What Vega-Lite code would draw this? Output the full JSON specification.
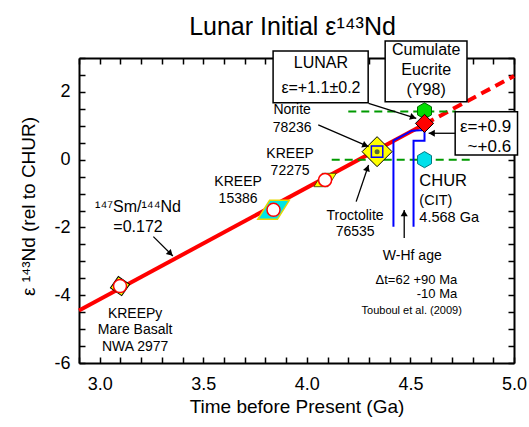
{
  "$schema": "https://vega.github.io/schema/vega-lite/v6.json",
  "width": 435,
  "height": 305,
  "autosize": {"type": "none"},
  "padding": {"left": 79, "top": 58, "right": 15, "bottom": 64},
  "background": "white",
  "config": {
    "view": {"stroke": null},
    "font": "Liberation Sans",
    "axis": {"domainColor": "black", "domainWidth": 2, "tickColor": "black", "tickWidth": 1.5, "grid": false, "labelColor": "black", "titleColor": "black", "labelFont": "Liberation Sans", "titleFont": "Liberation Sans", "titleFontWeight": "normal"}
  },
  "title": {"text": "Lunar Initial ε¹⁴³Nd", "frame": "group", "anchor": "middle", "fontSize": 25, "fontWeight": "normal", "font": "Liberation Sans", "color": "black", "baseline": "alphabetic", "offset": 0, "dy": 20, "dx": -4},
  "datasets": {
    "redline": [
      {"part": "solid", "x": 2.9, "y": -4.45},
      {"part": "solid", "x": 4.57, "y": 1.053},
      {"part": "dashed", "x": 4.57, "y": 1.053},
      {"part": "dashed", "x": 5.0, "y": 2.47}
    ],
    "greenlines": [
      {"g": "upper", "x": 4.2, "y": 1.42},
      {"g": "upper", "x": 4.72, "y": 1.42},
      {"g": "lower", "x": 4.12, "y": 0},
      {"g": "lower", "x": 4.8, "y": 0}
    ],
    "whf": [
      {"o": 1, "x": 4.418, "y": -1.98},
      {"o": 2, "x": 4.418, "y": 0.56},
      {"o": 3, "x": 4.507, "y": 0.855},
      {"o": 4, "x": 4.568, "y": 0.876},
      {"o": 5, "x": 4.568, "y": 0.56},
      {"o": 6, "x": 4.515, "y": 0.56},
      {"o": 7, "x": 4.515, "y": -1.98}
    ],
    "samples": [
      {"id": "nwa", "x": 3.098, "y": -3.73},
      {"id": "k15386", "x": 3.839, "y": -1.48},
      {"id": "k72275", "x": 4.088, "y": -0.6},
      {"id": "t76535", "x": 4.339, "y": 0.236},
      {"id": "eucrite", "x": 4.568, "y": 1.44},
      {"id": "lunar", "x": 4.568, "y": 1.07},
      {"id": "chur", "x": 4.568, "y": 0.0}
    ],
    "boxes": [
      {"id": "lunar", "x": 3.837, "x2": 4.296, "y": 3.206, "y2": 1.681},
      {"id": "cumulate", "x": 4.378, "x2": 4.773, "y": 3.501, "y2": 1.711},
      {"id": "eps", "x": 4.716, "x2": 5.017, "y": 1.416, "y2": 0.139}
    ],
    "arrows": [
      {"id": "sm", "x": 3.259, "y": -2.271, "x2": 3.353, "y2": -2.841},
      {"id": "norite", "x": 4.055, "y": 1.024, "x2": 4.298, "y2": 0.383},
      {"id": "lunar", "x": 4.298, "y": 1.664, "x2": 4.528, "y2": 1.221},
      {"id": "eps", "x": 4.716, "y": 0.779, "x2": 4.588, "y2": 0.779},
      {"id": "troct", "x": 4.238, "y": -1.239, "x2": 4.298, "y2": -0.156},
      {"id": "whf", "x": 4.47, "y": -2.31, "x2": 4.47, "y2": -1.484}
    ],
    "heads": [
      {"id": "sm", "x": 3.3415, "y": -2.773},
      {"id": "norite", "x": 4.283, "y": 0.422},
      {"id": "lunar", "x": 4.513, "y": 1.251},
      {"id": "eps", "x": 4.603, "y": 0.779},
      {"id": "troct", "x": 4.292, "y": -0.248},
      {"id": "whf", "x": 4.47, "y": -1.581}
    ],
    "txt_samples": [
      {"text": "KREEPy", "x": 3.171, "y": -4.67},
      {"text": "Mare Basalt", "x": 3.171, "y": -5.142},
      {"text": "NWA 2977", "x": 3.171, "y": -5.643},
      {"text": "KREEP", "x": 3.668, "y": -0.776},
      {"text": "15386", "x": 3.668, "y": -1.277},
      {"text": "KREEP", "x": 3.919, "y": 0.05},
      {"text": "72275", "x": 3.919, "y": -0.451},
      {"text": "Norite", "x": 3.929, "y": 1.333},
      {"text": "78236", "x": 3.929, "y": 0.817},
      {"text": "Troctolite", "x": 4.233, "y": -1.779},
      {"text": "76535", "x": 4.233, "y": -2.251},
      {"text": "W-Hf age", "x": 4.509, "y": -2.959}
    ],
    "txt_ratio": [
      {"text": "¹⁴⁷Sm/¹⁴⁴Nd", "x": 3.185, "y": -1.534},
      {"text": "=0.172", "x": 3.185, "y": -2.124}
    ],
    "txt_box": [
      {"text": "LUNAR", "x": 4.068, "y": 2.705},
      {"text": "ε=+1.1±0.2", "x": 4.068, "y": 1.959},
      {"text": "Cumulate", "x": 4.576, "y": 3.074},
      {"text": "Eucrite", "x": 4.576, "y": 2.484},
      {"text": "(Y98)", "x": 4.576, "y": 1.894}
    ],
    "txt_eps": [
      {"text": "ε=+0.9", "x": 4.986, "y": 0.826},
      {"text": "~+0.6", "x": 4.986, "y": 0.236}
    ],
    "txt_chur": [
      {"text": "CHUR", "x": 4.543, "y": -0.776}
    ],
    "txt_chur_sub": [
      {"text": "(CIT)", "x": 4.543, "y": -1.336},
      {"text": "4.568 Ga", "x": 4.543, "y": -1.829}
    ],
    "txt_dt": [
      {"text": "Δt=62 +90 Ma", "x": 4.726, "y": -3.67},
      {"text": "-10 Ma", "x": 4.726, "y": -4.09}
    ],
    "txt_ref": [
      {"text": "Touboul et al. (2009)", "x": 4.506, "y": -4.56}
    ]
  },
  "encoding": {
    "x": {"field": "x", "type": "quantitative", "scale": {"domain": [2.9, 5.0], "nice": false, "zero": false}, "axis": null},
    "y": {"field": "y", "type": "quantitative", "scale": {"domain": [-6, 3], "nice": false, "zero": false}, "axis": null}
  },
  "layer": [
    {
      "data": {"name": "redline"},
      "transform": [{"filter": "datum.part == 'solid'"}],
      "mark": {"type": "line", "color": "#ff0000", "strokeWidth": 4},
      "encoding": {
        "x": {"field": "x", "type": "quantitative", "scale": {"domain": [2.9, 5.0], "nice": false, "zero": false},
          "axis": {"orient": "bottom", "values": [2.9, 3.0, 3.1, 3.2, 3.3, 3.4, 3.5, 3.6, 3.7, 3.8, 3.9, 4.0, 4.1, 4.2, 4.3, 4.4, 4.5, 4.6, 4.7, 4.8, 4.9, 5.0],
            "labelExpr": "abs(datum.value*2 - round(datum.value*2)) < 0.000001 ? format(datum.value, '.1f') : ''",
            "tickSize": -6, "labelPadding": 18, "labelFontSize": 18, "labelFlush": false, "labelOverlap": false,
            "title": "Time before Present (Ga)", "titleFontSize": 19, "titleBaseline": "alphabetic", "titleY": 49}},
        "y": {"field": "y", "type": "quantitative", "scale": {"domain": [-6, 3], "nice": false, "zero": false},
          "axis": {"orient": "left", "values": [-6, -5.5, -5, -4.5, -4, -3.5, -3, -2.5, -2, -1.5, -1, -0.5, 0, 0.5, 1, 1.5, 2, 2.5, 3],
            "labelExpr": "datum.value % 2 == 0 ? '' + datum.value : ''",
            "tickSize": -6, "labelPadding": 15, "labelFontSize": 18, "labelFlush": false, "labelOverlap": false,
            "title": "ε ¹⁴³Nd (rel to CHUR)", "titleFontSize": 19, "titleBaseline": "alphabetic", "titleX": -45, "titleY": 148}}
      }
    },
    {
      "data": {"name": "redline"},
      "transform": [{"filter": "datum.part == 'dashed'"}],
      "mark": {"type": "line", "color": "#ff0000", "strokeWidth": 4, "strokeDash": [10, 6]},
      "encoding": {
        "x": {"field": "x", "type": "quantitative", "scale": {"domain": [2.9, 5.0], "nice": false, "zero": false},
          "axis": {"orient": "top", "values": [2.9, 3.0, 3.1, 3.2, 3.3, 3.4, 3.5, 3.6, 3.7, 3.8, 3.9, 4.0, 4.1, 4.2, 4.3, 4.4, 4.5, 4.6, 4.7, 4.8, 4.9, 5.0], "labels": false, "tickSize": -6, "title": null}},
        "y": {"field": "y", "type": "quantitative", "scale": {"domain": [-6, 3], "nice": false, "zero": false},
          "axis": {"orient": "right", "values": [-6, -5.5, -5, -4.5, -4, -3.5, -3, -2.5, -2, -1.5, -1, -0.5, 0, 0.5, 1, 1.5, 2, 2.5, 3], "labels": false, "tickSize": -6, "title": null}}
      }
    },
    {
      "data": {"name": "greenlines"},
      "mark": {"type": "line", "color": "#009a00", "strokeWidth": 2, "strokeDash": [8, 5]},
      "encoding": {"detail": {"field": "g"}}
    },
    {
      "data": {"name": "whf"},
      "mark": {"type": "line", "color": "#0000ff", "strokeWidth": 2},
      "encoding": {"order": {"field": "o", "type": "quantitative"}}
    },
    {
      "data": {"name": "samples"},
      "transform": [{"filter": "datum.id == 'nwa'"}],
      "mark": {"type": "point", "shape": "square", "size": 190, "angle": 35, "filled": true, "fill": "#ffff00", "stroke": "black", "strokeWidth": 1, "opacity": 1}
    },
    {
      "data": {"name": "samples"},
      "transform": [{"filter": "datum.id == 'k15386'"}],
      "mark": {"type": "point", "shape": "M-1,0.6L-0.25,-0.6L1,-0.6L0.25,0.6Z", "size": 1000, "filled": true, "fill": "#00e5e5", "stroke": "#e8d800", "strokeWidth": 1.5, "opacity": 1}
    },
    {
      "data": {"name": "samples"},
      "transform": [{"filter": "datum.id == 'k72275'"}],
      "mark": {"type": "point", "shape": "M-1,0.6L-0.25,-0.6L1,-0.6L0.25,0.6Z", "size": 500, "filled": true, "fill": "#ffff00", "stroke": "#333300", "strokeWidth": 0.8, "opacity": 1}
    },
    {
      "data": {"name": "samples"},
      "transform": [{"filter": "indexof(['nwa','k15386','k72275'], datum.id) >= 0"}],
      "mark": {"type": "point", "shape": "circle", "size": 170, "filled": true, "fill": "white", "stroke": "#ff0000", "strokeWidth": 1.5, "opacity": 1}
    },
    {
      "data": {"name": "samples"},
      "transform": [{"filter": "datum.id == 't76535'"}],
      "mark": {"type": "point", "shape": "diamond", "size": 900, "filled": true, "fill": "#ffff00", "stroke": "black", "strokeWidth": 1, "opacity": 1}
    },
    {
      "data": {"name": "samples"},
      "transform": [{"filter": "datum.id == 't76535'"}],
      "mark": {"type": "point", "shape": "square", "size": 130, "filled": false, "stroke": "#0000ff", "strokeWidth": 1.5, "opacity": 1}
    },
    {
      "data": {"name": "samples"},
      "transform": [{"filter": "datum.id == 't76535'"}],
      "mark": {"type": "point", "shape": "circle", "size": 25, "filled": true, "fill": "#556b2f", "opacity": 1}
    },
    {
      "data": {"name": "samples"},
      "transform": [{"filter": "datum.id == 'eucrite'"}],
      "mark": {"type": "point", "shape": "M0,-1L0.866,-0.5L0.866,0.5L0,1L-0.866,0.5L-0.866,-0.5Z", "size": 260, "filled": true, "fill": "#00dd00", "stroke": "#006600", "strokeWidth": 1, "opacity": 1}
    },
    {
      "data": {"name": "samples"},
      "transform": [{"filter": "datum.id == 'chur'"}],
      "mark": {"type": "point", "shape": "M0,-1L0.866,-0.5L0.866,0.5L0,1L-0.866,0.5L-0.866,-0.5Z", "size": 260, "filled": true, "fill": "#00e0ea", "stroke": "#007a80", "strokeWidth": 1, "opacity": 1}
    },
    {
      "data": {"name": "samples"},
      "transform": [{"filter": "datum.id == 'lunar'"}],
      "mark": {"type": "point", "shape": "diamond", "size": 330, "filled": true, "fill": "#ff0000", "stroke": "black", "strokeWidth": 1, "opacity": 1}
    },
    {
      "data": {"name": "boxes"},
      "mark": {"type": "rect", "fill": "white", "stroke": "black", "strokeWidth": 1.5},
      "encoding": {"x2": {"field": "x2"}, "y2": {"field": "y2"}}
    },
    {
      "data": {"name": "arrows"},
      "mark": {"type": "rule", "color": "black", "strokeWidth": 1.3},
      "encoding": {"x2": {"field": "x2"}, "y2": {"field": "y2"}}
    },
    {"data": {"name": "heads"}, "transform": [{"filter": "datum.id == 'sm'"}], "mark": {"type": "point", "shape": "triangle-up", "size": 50, "angle": 135, "filled": true, "fill": "black", "strokeWidth": 0, "opacity": 1}},
    {"data": {"name": "heads"}, "transform": [{"filter": "datum.id == 'norite'"}], "mark": {"type": "point", "shape": "triangle-up", "size": 50, "angle": 113, "filled": true, "fill": "black", "strokeWidth": 0, "opacity": 1}},
    {"data": {"name": "heads"}, "transform": [{"filter": "datum.id == 'lunar'"}], "mark": {"type": "point", "shape": "triangle-up", "size": 50, "angle": 107, "filled": true, "fill": "black", "strokeWidth": 0, "opacity": 1}},
    {"data": {"name": "heads"}, "transform": [{"filter": "datum.id == 'eps'"}], "mark": {"type": "point", "shape": "triangle-up", "size": 50, "angle": 270, "filled": true, "fill": "black", "strokeWidth": 0, "opacity": 1}},
    {"data": {"name": "heads"}, "transform": [{"filter": "datum.id == 'troct'"}], "mark": {"type": "point", "shape": "triangle-up", "size": 50, "angle": 18, "filled": true, "fill": "black", "strokeWidth": 0, "opacity": 1}},
    {"data": {"name": "heads"}, "transform": [{"filter": "datum.id == 'whf'"}], "mark": {"type": "point", "shape": "triangle-up", "size": 50, "angle": 0, "filled": true, "fill": "black", "strokeWidth": 0, "opacity": 1}},
    {
      "data": {"name": "txt_samples"},
      "mark": {"type": "text", "fontSize": 14, "align": "center", "baseline": "alphabetic", "color": "black", "font": "Liberation Sans"},
      "encoding": {"text": {"field": "text"}}
    },
    {
      "data": {"name": "txt_ratio"},
      "mark": {"type": "text", "fontSize": 16, "align": "center", "baseline": "alphabetic", "color": "black", "font": "Liberation Sans"},
      "encoding": {"text": {"field": "text"}}
    },
    {
      "data": {"name": "txt_box"},
      "mark": {"type": "text", "fontSize": 16, "align": "center", "baseline": "alphabetic", "color": "black", "font": "Liberation Sans"},
      "encoding": {"text": {"field": "text"}}
    },
    {
      "data": {"name": "txt_eps"},
      "mark": {"type": "text", "fontSize": 17, "align": "right", "baseline": "alphabetic", "color": "black", "font": "Liberation Sans"},
      "encoding": {"text": {"field": "text"}}
    },
    {
      "data": {"name": "txt_chur"},
      "mark": {"type": "text", "fontSize": 16.5, "align": "left", "baseline": "alphabetic", "color": "black", "font": "Liberation Sans"},
      "encoding": {"text": {"field": "text"}}
    },
    {
      "data": {"name": "txt_chur_sub"},
      "mark": {"type": "text", "fontSize": 14.5, "align": "left", "baseline": "alphabetic", "color": "black", "font": "Liberation Sans"},
      "encoding": {"text": {"field": "text"}}
    },
    {
      "data": {"name": "txt_dt"},
      "mark": {"type": "text", "fontSize": 13, "align": "right", "baseline": "alphabetic", "color": "black", "font": "Liberation Sans"},
      "encoding": {"text": {"field": "text"}}
    },
    {
      "data": {"name": "txt_ref"},
      "mark": {"type": "text", "fontSize": 11, "align": "center", "baseline": "alphabetic", "color": "black", "font": "Liberation Sans"},
      "encoding": {"text": {"field": "text"}}
    }
  ],
  "resolve": {"axis": {"x": "independent", "y": "independent"}}
}
